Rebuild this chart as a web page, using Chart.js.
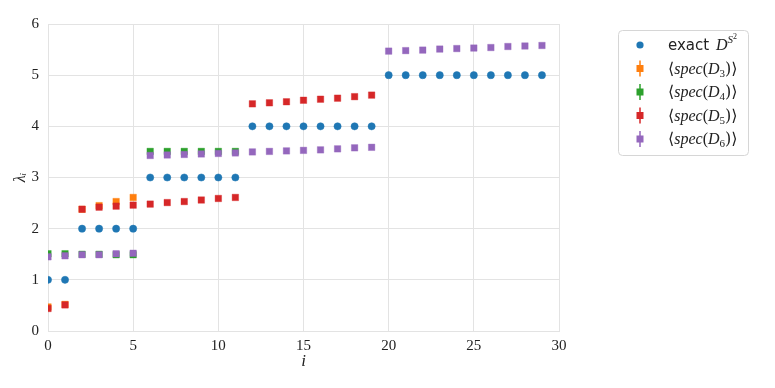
<!DOCTYPE html>
<html>
<head>
<meta charset="utf-8">
<script src="https://cdn.jsdelivr.net/npm/chart.js@4/dist/chart.umd.min.js"></script>
<style>
  html,body{margin:0;padding:0;background:#fff;}
  #wrap{width:775px;height:388px;position:relative;}
</style>
</head>
<body>
<div id="wrap"><canvas id="c" width="775" height="388"></canvas></div>
<script>
// ---- data ----
const xTicks = [0, 5, 10, 15, 20, 25, 30];
const yTicks = [0, 1, 2, 3, 4, 5, 6];
const exactVals = [1,1, 2,2,2,2, 3,3,3,3,3,3, 4,4,4,4,4,4,4,4, 5,5,5,5,5,5,5,5,5,5];
const d3Vals = [0.47,0.52, 2.38,2.45,2.53,2.61];
const d4Vals = [1.51,1.51,1.50,1.50,1.49,1.49, 3.51,3.51,3.51,3.51,3.51,3.51];
const d5Vals = [0.44,0.51, 2.38,2.42,2.44,2.46, 2.48,2.51,2.53,2.56,2.59,2.61,
                4.44,4.46,4.48,4.51,4.53,4.55,4.58,4.61];
const d6Vals = [1.45,1.47,1.49,1.49,1.51,1.52, 3.43,3.44,3.45,3.46,3.47,3.48,
                3.50,3.51,3.52,3.53,3.54,3.56,3.58,3.59,
                5.47,5.48,5.49,5.51,5.52,5.53,5.54,5.56,5.57,5.58];
const seriesNames = ['exact D^{S^2}', '⟨spec(D3)⟩', '⟨spec(D4)⟩', '⟨spec(D5)⟩', '⟨spec(D6)⟩'];
const colors = ['#1f77b4', '#ff7f0e', '#2ca02c', '#d62728', '#9467bd'];

const toPts = arr => arr.map((v, i) => ({x: i, y: v}));
const halo = (hex, a) => {
  const n = parseInt(hex.slice(1), 16);
  return `rgba(${(n>>16)&255},${(n>>8)&255},${n&255},${a})`;
};

const allSeries = [exactVals, d3Vals, d4Vals, d5Vals, d6Vals];
const datasets = allSeries.map((vals, k) => ({
  label: seriesNames[k],
  data: toPts(vals),
  showLine: false,
  pointStyle: k === 0 ? 'circle' : 'rect',
  pointRadius: k === 0 ? 3.6 : 4.6,
  pointBorderWidth: 1,
  backgroundColor: colors[k],
  borderColor: halo(colors[k], k === 0 ? 0.5 : 0.35),
  order: 5 - k
}));

const serif = '"Liberation Serif", "DejaVu Serif", serif';

// ---- legend plugin ----
const legendPlugin = {
  id: 'customLegend',
  afterDraw(chart) {
    const ctx = chart.ctx;
    ctx.save();
    const bx = 618.5, by = 30.5, bw = 130, bh = 125, r = 4;
    ctx.beginPath();
    ctx.moveTo(bx + r, by);
    ctx.arcTo(bx + bw, by, bx + bw, by + bh, r);
    ctx.arcTo(bx + bw, by + bh, bx, by + bh, r);
    ctx.arcTo(bx, by + bh, bx, by, r);
    ctx.arcTo(bx, by, bx + bw, by, r);
    ctx.closePath();
    ctx.fillStyle = '#ffffff';
    ctx.fill();
    ctx.strokeStyle = '#d6d6d6';
    ctx.lineWidth = 1;
    ctx.stroke();

    const mx = 640, tx = 668;
    const rows = [45, 68.5, 92, 115.5, 139];
    ctx.textBaseline = 'alphabetic';
    const drawParts = (parts, x, y) => {
      for (const p of parts) {
        ctx.font = p[1];
        ctx.fillStyle = '#222';
        ctx.fillText(p[0], x, y + (p[2] || 0));
        x += ctx.measureText(p[0]).width + (p[3] || 0);
      }
    };
    rows.forEach((y, k) => {
      const c = colors[k];
      if (k === 0) {
        ctx.beginPath();
        ctx.arc(mx, y, 3.6, 0, Math.PI * 2);
        ctx.fillStyle = c;
        ctx.fill();
        drawParts([
          ['exact ', '15px "DejaVu Sans", sans-serif', 5, 2],
          ['D', 'italic 16px ' + serif, 5, 0],
          ['S', 'italic 11px ' + serif, -2, 0],
          ['2', '8px ' + serif, -6, 0]
        ], tx, y);
      } else {
        ctx.strokeStyle = c;
        ctx.lineWidth = 1.5;
        ctx.beginPath();
        ctx.moveTo(mx, y - 8);
        ctx.lineTo(mx, y + 8);
        ctx.stroke();
        ctx.fillStyle = c;
        ctx.fillRect(mx - 3.5, y - 3.5, 7, 7);
        drawParts([
          ['⟨', '16px "DejaVu Serif", serif', 5, 0],
          ['spec', 'italic 16px ' + serif, 5, 0],
          ['(', '16px ' + serif, 5, 0],
          ['D', 'italic 16px ' + serif, 5, 0],
          [String(k + 2), '11px ' + serif, 8, 0],
          ['))', '16px ' + serif, 5, -11],
          [')⟩', '16px "DejaVu Serif", serif', 5, 0]
        ].filter(p => p[0] !== '))'), tx, y);
      }
    });
    ctx.restore();
  }
};

new Chart(document.getElementById('c'), {
  type: 'scatter',
  data: { datasets },
  options: {
    responsive: false,
    animation: false,
    events: [],
    layout: { padding: { left: 0, top: 24, right: 216, bottom: 0 } },
    plugins: { legend: { display: false }, tooltip: { enabled: false } },
    scales: {
      x: {
        type: 'linear',
        min: 0, max: 30,
        afterFit: s => { s.height = 57; },
        afterBuildTicks: s => { s.ticks = xTicks.map(v => ({value: v})); },
        grid: { color: '#e3e3e3', lineWidth: 1, drawTicks: false },
        border: { color: '#e3e3e3', width: 1 },
        ticks: { color: '#222', font: { family: serif, size: 15 }, padding: 6, maxRotation: 0 },
        title: { display: true, text: 'i', color: '#222',
                 font: { family: serif, size: 17, style: 'italic' },
                 padding: { top: 0, bottom: 16 } }
      },
      y: {
        type: 'linear',
        min: 0, max: 6,
        afterFit: s => { s.width = 48; },
        afterBuildTicks: s => { s.ticks = yTicks.map(v => ({value: v})); },
        grid: { color: '#e3e3e3', lineWidth: 1, drawTicks: false },
        border: { color: '#e3e3e3', width: 1 },
        ticks: { color: '#222', font: { family: serif, size: 15 }, padding: 9 },
        title: { display: true, text: 'λᵢ', color: '#222',
                 font: { family: serif, size: 16, style: 'italic' },
                 padding: { top: 11, bottom: 0 } }
      }
    }
  },
  plugins: [legendPlugin]
});
</script>
</body>
</html>
